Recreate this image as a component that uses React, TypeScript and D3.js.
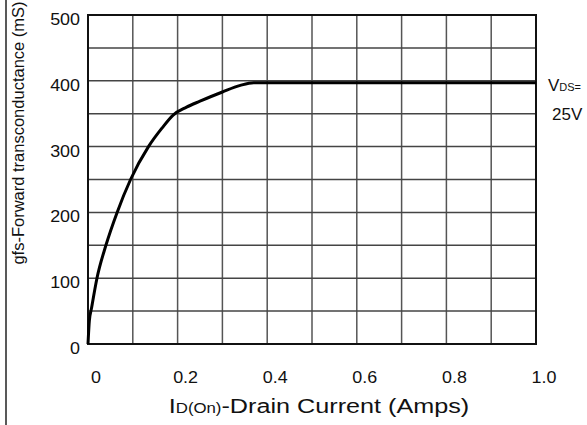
import React from 'react';
import * as d3 from 'd3';

// drain current (Amps) and transconductance (mS)
const currentA = [0, 0.003, 0.008, 0.02, 0.04, 0.065, 0.095, 0.135, 0.165, 0.19, 0.22, 0.25, 0.3, 0.34, 0.37, 1.0];
const gfsMS = [0, 35, 55, 100, 150, 200, 250, 300, 328, 348, 360, 369, 383, 393, 397, 397];

const xTickLabels = ['0', '0.2', '0.4', '0.6', '0.8', '1.0'];
const yTickLabels = ['0', '100', '200', '300', '400', '500'];

const W = 587, H = 425;
const left = 88, right = 536, top = 15, bottom = 344;
const font = "'Liberation Sans', Arial, sans-serif";

export default function App() {
  const x = d3.scaleLinear().domain([0, 1]).range([left, right]);
  const y = d3.scaleLinear().domain([0, 500]).range([bottom, top]);

  const xGrid = d3.range(0, 11).map((i) => i / 10);
  const yGrid = d3.range(0, 11).map((i) => i * 50);

  const pts: [number, number][] = currentA.map((c, i) => [c, gfsMS[i]]);
  const line = d3.line<[number, number]>()
    .x((d) => x(d[0]))
    .y((d) => y(d[1]))
    .curve(d3.curveMonotoneX);

  return (
    <svg width={W} height={H} style={{ position: 'absolute', left: 0, top: 0, background: '#fff' }}
      fontFamily={font}>
      <line x1={6} x2={6} y1={0} y2={H} stroke="#222" strokeWidth={1.5} />
      {xGrid.map((v) => (
        <line key={'vx' + v} x1={x(v)} x2={x(v)} y1={top} y2={bottom} stroke="#555" strokeWidth={1.5} />
      ))}
      {yGrid.map((v) => (
        <line key={'hy' + v} x1={left} x2={right} y1={y(v)} y2={y(v)} stroke="#444" strokeWidth={1.5} />
      ))}
      <rect x={left} y={top} width={right - left} height={bottom - top} fill="none" stroke="#111" strokeWidth={2} />
      <path d={line(pts) || ''} fill="none" stroke="#000" strokeWidth={3} strokeLinejoin="round" />

      {yTickLabels.map((t) => (
        <text key={'yt' + t} transform={`translate(80,${y(+t) + 10}) scale(1.12,1)`} textAnchor="end"
          fontSize={16} fill="#111">{t}</text>
      ))}
      {xTickLabels.map((t) => (
        <text key={'xt' + t} transform={`translate(${x(+t) + 8},383) scale(1.12,1)`} textAnchor="middle"
          fontSize={16} fill="#111">{t}</text>
      ))}

      <text transform={`translate(319,413) scale(1.2,1)`} textAnchor="middle" fontSize={21} fill="#111">
        <tspan>I</tspan><tspan fontSize={14}>D(On)</tspan><tspan>-Drain Current (Amps)</tspan>
      </text>
      <text transform="translate(24,133) rotate(-90)" textAnchor="middle" fontSize={16.5} fill="#111">
        gfs-Forward transconductance (mS)
      </text>

      <text x={548} y={91} fontSize={17} fill="#111">
        <tspan>V</tspan><tspan fontSize={11}>DS=</tspan>
      </text>
      <text x={552} y={120} fontSize={17} fill="#111">25V</text>
    </svg>
  );
}
